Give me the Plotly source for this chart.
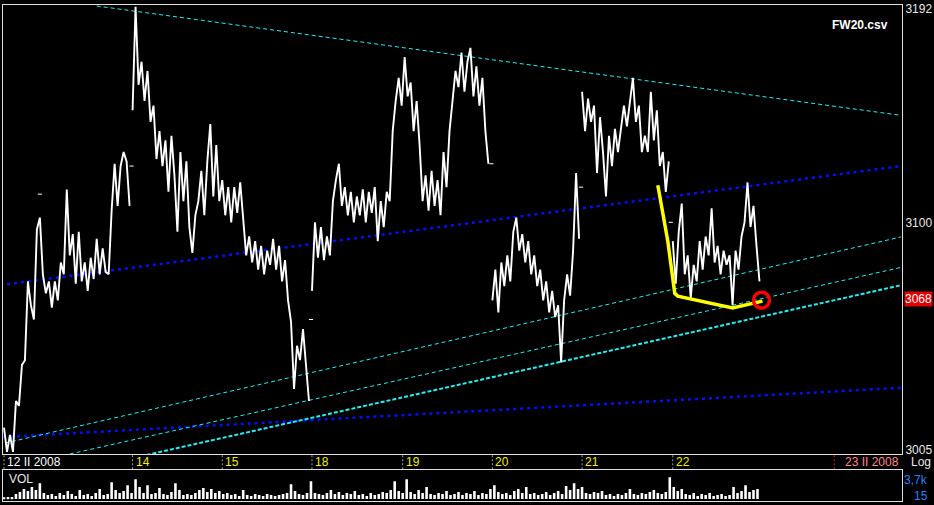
import math
import plotly.graph_objects as go

# ---------------- data ----------------
day_labels = ["12 II 2008", "14", "15", "18", "19", "20", "21", "22"]
day_ticks = [0, 129, 219, 309, 400, 490, 580, 671]
end_label = "23 II 2008"
end_tick = 833

price_labels = [3005, 3100, 3192]
last_price = 3068
marker_price = 3091.7

# intraday price, one list per session block, sampled every 3 bars
seg_starts = [0, 129, 309, 490, 580, 671]
step = 3
p_s1 = [3014, 3004, 3011, 3004, 3025, 3023, 3040, 3042, 3075, 3065, 3059, 3097, 3102, 3078,
        3070, 3075, 3064, 3075, 3067, 3083, 3078, 3114, 3086, 3095, 3074, 3096, 3075, 3083,
        3071, 3085, 3076, 3093, 3078, 3089, 3079, 3078, 3105, 3125, 3107, 3124, 3130, 3126, 3107]
p_s2 = [3148, 3193, 3159, 3169, 3152, 3165, 3143, 3150, 3127, 3139, 3124, 3135, 3113, 3137,
        3120, 3096, 3130, 3109, 3126, 3098, 3087, 3103, 3109, 3122, 3103, 3126, 3142, 3111,
        3133, 3109, 3118, 3103, 3115, 3100, 3115, 3104, 3117, 3103, 3086, 3094, 3083, 3092,
        3080, 3090, 3078, 3088, 3082, 3093, 3080, 3090, 3075, 3084, 3067, 3058, 3030, 3048,
        3042, 3055, 3040, 3025]
p_s3 = [3071, 3100, 3085, 3098, 3084, 3094, 3086, 3109, 3118, 3125, 3107, 3115, 3103, 3113,
        3100, 3111, 3103, 3114, 3100, 3113, 3104, 3115, 3092, 3109, 3098, 3113, 3109, 3139,
        3152, 3162, 3150, 3171, 3154, 3160, 3139, 3152, 3133, 3109, 3120, 3105, 3122, 3107,
        3118, 3103, 3130, 3115, 3139, 3153, 3165, 3158, 3173, 3156, 3169, 3175, 3154, 3167,
        3150, 3162, 3139, 3125]
p_s4 = [3067, 3080, 3062, 3083, 3073, 3086, 3075, 3096, 3102, 3088, 3095, 3083, 3092, 3078,
        3086, 3073, 3080, 3067, 3075, 3062, 3071, 3060, 3065, 3041, 3067, 3078, 3069, 3088,
        3121, 3093]
p_s5 = [3156, 3139, 3153, 3143, 3150, 3121, 3145, 3130, 3111, 3137, 3124, 3140, 3130, 3139,
        3150, 3141, 3152, 3162, 3143, 3150, 3130, 3137, 3130, 3156, 3135, 3148, 3124, 3130,
        3113, 3126]
p_s6 = [3092, 3074, 3096, 3108, 3078, 3086, 3068, 3082, 3075, 3092, 3080, 3094, 3086, 3106,
        3083, 3090, 3078, 3088, 3082, 3086, 3065, 3088, 3080, 3094, 3100, 3117, 3098, 3107,
        3090, 3075]
segments = [p_s1, p_s2, p_s3, p_s4, p_s5, p_s6]

# session reference marks (small white dashes)
ref_x = [36, 128, 308, 489, 579, 669]
ref_p = [3112, 3124, 3059, 3125, 3115, 3100]

# trend lines (bar index, price)
top_x, top_p = [93, 900], [3193.3, 3145.8]
cyanA_x, cyanA_p = [1, 900], [3007.6, 3093.8]
cyanB_x, cyanB_p = [66, 900], [3003.1, 3080.9]
cyanC_x, cyanC_p = [143, 900], [3002.7, 3073.4]
blueU_x, blueU_p = [3, 900], [3073.8, 3124.0]
blueL_x, blueL_p = [-1, 900], [3010.1, 3030.5]

# yellow pattern and circled point
yel_x = [656, 666, 673, 676, 731, 761]
yel_p = [3115.8, 3092.1, 3070.0, 3068.8, 3063.8, 3066.7]
circle_x, circle_p = [760], [3067.1]

# volume, every 4 bars
vol_step = 4
volume = [160, 320, 320, 800, 1120, 1600, 1280, 1920, 1440, 2560, 960, 640, 800, 480, 960, 640,
          1280, 800, 480, 1440, 640, 800, 480, 960, 1600, 640, 800, 2720, 1440, 960, 1280, 2240,
          960, 3200, 1920, 960, 2240, 800, 960, 1760, 800, 640, 1120, 2560, 1440, 640, 800, 640,
          960, 1440, 1760, 1120, 1600, 960, 1280, 800, 960, 640, 800, 480, 1440, 640, 480, 800,
          640, 480, 800, 640, 480, 640, 800, 960, 2400, 1280, 800, 640, 960, 2880, 960, 800,
          640, 960, 1440, 800, 1120, 640, 960, 800, 1280, 640, 800, 480, 960, 640, 800, 1120,
          960, 1440, 2880, 1280, 960, 3200, 1120, 800, 1440, 960, 1920, 800, 640, 960, 800, 1280,
          640, 800, 1120, 640, 960, 800, 1280, 640, 960, 800, 1600, 2240, 1120, 800, 960, 640,
          1280, 1600, 960, 1920, 800, 960, 640, 800, 1120, 640, 960, 1280, 800, 2080, 1440, 2560,
          1600, 1920, 960, 800, 1120, 960, 1280, 640, 800, 480, 800, 640, 960, 1600, 800, 640,
          960, 800, 1120, 1440, 960, 800, 1120, 3520, 1920, 1280, 1600, 800, 640, 960, 480, 800,
          640, 960, 480, 640, 800, 480, 640, 1920, 960, 1280, 2240, 1120, 1440, 1600]

# ---------------- figure ----------------
W, H = 934, 505
ML, MR, MT, MB = 3, 29, 2, 3
PW, PH = W - ML - MR, H - MT - MB


def px_x(px):
    return (px - ML) / PW


def px_y(py):
    return (H - MB - py) / PH


px_per_log = (math.log10(3192) - math.log10(3005)) / 444.0
y_top = math.log10(3192) + 4 * px_per_log
y_bot = math.log10(3005) - 5 * px_per_log

xs, ys = [], []
for start, seg in zip(seg_starts, segments):
    for i, v in enumerate(seg):
        xs.append(start + i * step)
        ys.append(v)
    xs.append(None)
    ys.append(None)

fig = go.Figure()

CYAN = "#22f0f0"
BLUE = "#0010ff"


def add_line(x, y, color, width, dash):
    fig.add_trace(go.Scatter(x=x, y=y, mode="lines", line=dict(color=color, width=width, dash=dash),
                             hoverinfo="skip", xaxis="x", yaxis="y"))


add_line(blueL_x, blueL_p, BLUE, 2.5, "3px,4px")
add_line(blueU_x, blueU_p, BLUE, 2.5, "3px,4px")
add_line(top_x, top_p, CYAN, 1, "4px,3px")
add_line(cyanA_x, cyanA_p, CYAN, 1, "4px,3px")
add_line(cyanB_x, cyanB_p, CYAN, 1, "4px,3px")
add_line(cyanC_x, cyanC_p, CYAN, 2, "4px,2px")

fig.add_trace(go.Scatter(x=xs, y=ys, mode="lines", line=dict(color="white", width=1.9),
                         connectgaps=False, hoverinfo="skip"))
fig.add_trace(go.Scatter(x=ref_x, y=ref_p, mode="markers",
                         marker=dict(symbol="line-ew", size=3, color="white",
                                     line=dict(color="white", width=1)),
                         hoverinfo="skip"))
fig.add_trace(go.Scatter(x=yel_x, y=yel_p, mode="lines", line=dict(color="#ffff00", width=3.5),
                         hoverinfo="skip"))
fig.add_trace(go.Scatter(x=circle_x, y=circle_p, mode="markers",
                         marker=dict(symbol="circle-open", size=16, color="#ff0000",
                                     line=dict(color="#ff0000", width=3.5)),
                         hoverinfo="skip"))

vx = [i * vol_step for i in range(len(volume))]
fig.add_trace(go.Bar(x=vx, y=volume, width=2.6, marker=dict(color="white", line=dict(width=0)),
                     xaxis="x2", yaxis="y2", hoverinfo="skip"))

main_bottom = px_y(455)
vol_top = px_y(471)

fig.update_layout(
    width=W, height=H,
    margin=dict(l=ML, r=MR, t=MT, b=MB),
    paper_bgcolor="black", plot_bgcolor="black",
    showlegend=False, hovermode=False,
    font=dict(family="Liberation Sans, Arial, sans-serif", size=11, color="#e8e8e8"),
    xaxis=dict(range=[-1, PW - 1], domain=[0, 1], showgrid=False, zeroline=False,
               showticklabels=False, ticks="", showline=True, mirror=True,
               linecolor="#e0e0e0", linewidth=1, anchor="y"),
    yaxis=dict(type="log", range=[y_bot, y_top], domain=[main_bottom, 1], side="right",
               showgrid=False, zeroline=False, tickvals=price_labels,
               ticktext=[str(v) for v in price_labels], ticks="",
               tickfont=dict(size=12, color="#e8e8e8"),
               showline=True, mirror=True, linecolor="#e0e0e0", linewidth=1, anchor="x"),
    xaxis2=dict(range=[-1, PW - 1], domain=[0, 1], showgrid=False, zeroline=False,
                showticklabels=False, ticks="", showline=True, mirror=True,
                linecolor="#e0e0e0", linewidth=1, anchor="y2", matches="x"),
    yaxis2=dict(range=[-320, 4640], domain=[0, vol_top], showgrid=False, zeroline=False,
                showticklabels=False, ticks="", showline=True, mirror=True,
                linecolor="#e0e0e0", linewidth=1, anchor="x2"),
)

shapes = []
annotations = []
strip_y0, strip_y1 = px_y(470), px_y(456)
label_y = px_y(463)
for i, (t, lab) in enumerate(zip(day_ticks, day_labels)):
    shapes.append(dict(type="line", xref="x", yref="paper", x0=t, x1=t, y0=strip_y0, y1=strip_y1,
                       line=dict(color="#a0a0a0", width=1, dash="2px,2px")))
    annotations.append(dict(xref="x", yref="paper", x=t, y=label_y, text=lab, showarrow=False,
                            xanchor="left", yanchor="middle", xshift=1,
                            font=dict(size=12, color="white" if i == 0 else "#f0f000")))
shapes.append(dict(type="line", xref="x", yref="paper", x0=end_tick, x1=end_tick, y0=strip_y0,
                   y1=strip_y1, line=dict(color="#e02020", width=1, dash="2px,2px")))
annotations.append(dict(xref="paper", yref="paper", x=1.0, y=label_y, text=end_label,
                        showarrow=False, xanchor="right", yanchor="middle", xshift=-1,
                        font=dict(size=12, color="#ff8a8a")))
annotations.append(dict(xref="paper", yref="paper", x=px_x(912), y=label_y, text="Log",
                        showarrow=False, xanchor="left", yanchor="middle",
                        font=dict(size=12, color="#e8e8e8")))
# red dotted marker in the right margin
shapes.append(dict(type="line", xref="paper", yref="y", x0=1.0, x1=px_x(934),
                   y0=math.log10(marker_price), y1=math.log10(marker_price),
                   line=dict(color="#e02020", width=1, dash="2px,2px")))
# last price tag
annotations.append(dict(xref="paper", yref="y", x=px_x(907), y=math.log10(last_price),
                        text=str(last_price), showarrow=False, xanchor="left", yanchor="middle",
                        bgcolor="#e00000", borderpad=0, font=dict(size=12, color="white"),
                        yshift=-1))
annotations.append(dict(xref="paper", yref="paper", x=px_x(893), y=px_y(22), text="<b>FW20.csv</b>",
                        showarrow=False, xanchor="right", yanchor="middle",
                        font=dict(size=12, color="white")))
annotations.append(dict(xref="paper", yref="paper", x=px_x(7), y=px_y(480), text="VOL",
                        showarrow=False, xanchor="left", yanchor="middle",
                        font=dict(size=12, color="#e8e8e8")))
annotations.append(dict(xref="paper", yref="paper", x=px_x(933), y=px_y(481), text="3,7k",
                        showarrow=False, xanchor="right", yanchor="middle",
                        font=dict(size=12, color="#2a80ff")))
annotations.append(dict(xref="paper", yref="paper", x=px_x(933), y=px_y(497), text="15",
                        showarrow=False, xanchor="right", yanchor="middle",
                        font=dict(size=12, color="#2a80ff")))

fig.update_layout(shapes=shapes, annotations=annotations)
fig.write_html("out.html", config={"displayModeBar": False},
               post_script="document.body.style.margin='0';document.body.style.overflow='hidden';")
